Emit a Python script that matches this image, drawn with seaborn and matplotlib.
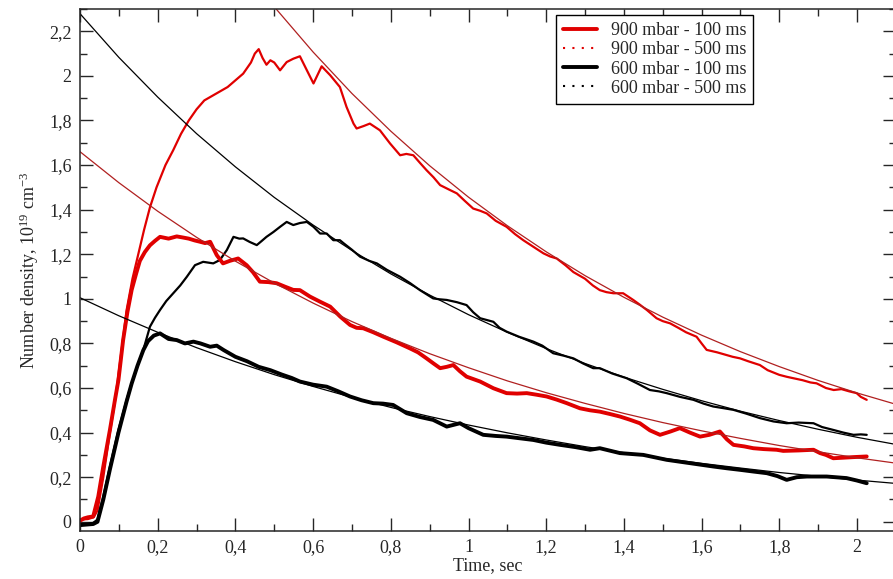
import matplotlib
matplotlib.use("Agg")
import matplotlib.pyplot as plt
import matplotlib.ticker as mticker
from matplotlib.lines import Line2D
import seaborn as sns

red100_t = [0, 0.01, 0.02, 0.034, 0.047, 0.06, 0.077, 0.09, 0.099, 0.111,
            0.122, 0.133, 0.144, 0.154, 0.167, 0.18, 0.193, 0.206, 0.228, 0.249,
            0.265, 0.28, 0.295, 0.309, 0.322, 0.335, 0.352, 0.368, 0.385, 0.407,
            0.429, 0.445, 0.463, 0.485, 0.506, 0.527, 0.549, 0.566, 0.592, 0.618,
            0.644, 0.67, 0.695, 0.712, 0.729, 0.755, 0.781, 0.815, 0.849, 0.87,
            0.892, 0.91, 0.927, 0.944, 0.961, 0.978, 0.995, 1.03, 1.064, 1.098,
            1.125, 1.15, 1.175, 1.201, 1.227, 1.253, 1.287, 1.313, 1.338, 1.365,
            1.39, 1.415, 1.441, 1.467, 1.493, 1.52, 1.544, 1.57, 1.596, 1.62,
            1.647, 1.665, 1.682, 1.71, 1.733, 1.76, 1.793, 1.81, 1.85, 1.888,
            1.905, 1.92, 1.939, 1.96, 1.99, 2.025]
red100_y = [0.005, 0.015, 0.02, 0.024, 0.113, 0.248, 0.412, 0.547, 0.636, 0.815,
            0.94, 1.04, 1.11, 1.17, 1.21, 1.24, 1.26, 1.278, 1.27, 1.28,
            1.275, 1.27, 1.262, 1.256, 1.25, 1.256, 1.196, 1.159, 1.17, 1.181,
            1.151, 1.12, 1.077, 1.075, 1.07, 1.055, 1.04, 1.039, 1.01, 0.987,
            0.965, 0.92, 0.883, 0.87, 0.868, 0.85, 0.83, 0.805, 0.778, 0.76,
            0.733, 0.71, 0.689, 0.695, 0.703, 0.675, 0.651, 0.629, 0.599, 0.577,
            0.575, 0.577, 0.57, 0.562, 0.548, 0.532, 0.509, 0.5, 0.494, 0.483,
            0.472, 0.458, 0.442, 0.41, 0.39, 0.405, 0.42, 0.4, 0.382, 0.39,
            0.405, 0.37, 0.345, 0.338, 0.33, 0.326, 0.323, 0.318, 0.32, 0.323,
            0.308, 0.3, 0.285, 0.287, 0.29, 0.293]

red500_t = [0, 0.02, 0.035, 0.045, 0.06, 0.077, 0.09, 0.107, 0.12, 0.135,
            0.15, 0.165, 0.18, 0.197, 0.22, 0.24, 0.26, 0.28, 0.30, 0.32,
            0.34, 0.36, 0.38, 0.40, 0.42, 0.44, 0.45, 0.46, 0.47, 0.48,
            0.49, 0.50, 0.515, 0.532, 0.549, 0.566, 0.584, 0.601, 0.622, 0.644,
            0.669, 0.686, 0.704, 0.712, 0.73, 0.746, 0.772, 0.798, 0.824, 0.84,
            0.858, 0.875, 0.892, 0.91, 0.927, 0.95, 0.97, 0.99, 1.012, 1.03,
            1.047, 1.07, 1.098, 1.12, 1.141, 1.17, 1.193, 1.21, 1.227, 1.25,
            1.27, 1.3, 1.32, 1.338, 1.355, 1.373, 1.398, 1.424, 1.44, 1.459,
            1.484, 1.50, 1.519, 1.54, 1.56, 1.587, 1.60, 1.613, 1.64, 1.66,
            1.68, 1.699, 1.72, 1.75, 1.77, 1.80, 1.82, 1.836, 1.86, 1.88,
            1.896, 1.92, 1.94, 1.96, 1.98, 1.999, 2.01, 2.025]
red500_y = [0.01, 0.012, 0.02, 0.05, 0.2, 0.4, 0.54, 0.77, 0.95, 1.09,
            1.2, 1.31, 1.41, 1.5, 1.6, 1.667, 1.74, 1.8, 1.85, 1.89,
            1.91, 1.93, 1.95, 1.98, 2.01, 2.06, 2.10, 2.12, 2.08, 2.05,
            2.07, 2.06, 2.025, 2.062, 2.077, 2.088, 2.025, 1.966, 2.043, 2.003,
            1.95, 1.861, 1.786, 1.764, 1.775, 1.786, 1.756, 1.697, 1.644, 1.65,
            1.644, 1.61, 1.577, 1.545, 1.51, 1.49, 1.473, 1.44, 1.405, 1.395,
            1.383, 1.35, 1.323, 1.29, 1.263, 1.23, 1.204, 1.19, 1.181, 1.15,
            1.12, 1.09, 1.06, 1.039, 1.03, 1.025, 1.025, 0.995, 0.975, 0.95,
            0.913, 0.90, 0.89, 0.87, 0.85, 0.83, 0.80, 0.771, 0.76, 0.75,
            0.74, 0.733, 0.72, 0.703, 0.68, 0.659, 0.65, 0.644, 0.635, 0.625,
            0.621, 0.60, 0.591, 0.595, 0.585, 0.577, 0.56, 0.547]

blk100_t = [0, 0.02, 0.034, 0.045, 0.06, 0.077, 0.099, 0.12, 0.133, 0.148,
            0.163, 0.175, 0.19, 0.206, 0.228, 0.249, 0.27, 0.292, 0.31, 0.335,
            0.352, 0.37, 0.40, 0.43, 0.46, 0.49, 0.52, 0.545, 0.566, 0.6,
            0.635, 0.665, 0.695, 0.725, 0.755, 0.78, 0.806, 0.841, 0.875, 0.909,
            0.944, 0.978, 1.0, 1.038, 1.07, 1.098, 1.13, 1.167, 1.2, 1.236,
            1.275, 1.313, 1.338, 1.39, 1.45, 1.51, 1.57, 1.63, 1.665, 1.699,
            1.735, 1.768, 1.795, 1.819, 1.845, 1.871, 1.922, 1.973, 2.0, 2.025]
blk100_y = [-0.015, -0.012, -0.01, 0.0, 0.1, 0.235, 0.40, 0.54, 0.62, 0.70,
            0.77, 0.81, 0.835, 0.845, 0.82, 0.815, 0.80, 0.808, 0.80, 0.785,
            0.79, 0.77, 0.74, 0.72, 0.695, 0.68, 0.66, 0.645, 0.629, 0.615,
            0.606, 0.585, 0.562, 0.545, 0.532, 0.53, 0.524, 0.487, 0.47, 0.457,
            0.427, 0.442, 0.42, 0.39, 0.385, 0.382, 0.375, 0.367, 0.355, 0.345,
            0.335, 0.323, 0.33, 0.308, 0.3, 0.278, 0.263, 0.248, 0.24, 0.233,
            0.225, 0.218, 0.205, 0.188, 0.2, 0.203, 0.203, 0.196, 0.185, 0.173]

blk500_t = [0, 0.02, 0.034, 0.045, 0.06, 0.077, 0.099, 0.12, 0.133, 0.148,
            0.163, 0.18, 0.193, 0.206, 0.222, 0.24, 0.258, 0.275, 0.296, 0.317,
            0.343, 0.36, 0.378, 0.395, 0.41, 0.42, 0.437, 0.455, 0.468, 0.48,
            0.498, 0.515, 0.532, 0.549, 0.566, 0.584, 0.601, 0.618, 0.635, 0.652,
            0.669, 0.678, 0.7, 0.721, 0.745, 0.764, 0.79, 0.824, 0.85, 0.875,
            0.909, 0.925, 0.944, 0.97, 0.995, 1.012, 1.03, 1.064, 1.08, 1.098,
            1.13, 1.167, 1.19, 1.218, 1.245, 1.27, 1.295, 1.321, 1.338, 1.37,
            1.407, 1.435, 1.467, 1.49, 1.51, 1.545, 1.579, 1.605, 1.63, 1.655,
            1.682, 1.715, 1.75, 1.785, 1.819, 1.85, 1.888, 1.91, 1.939, 1.965,
            1.991, 2.01, 2.025]
blk500_y = [-0.01, -0.01, -0.005, 0.01, 0.113, 0.248, 0.412, 0.547, 0.621, 0.70,
            0.771, 0.875, 0.915, 0.95, 0.99, 1.025, 1.06, 1.099, 1.151, 1.166,
            1.159, 1.174, 1.219, 1.278, 1.27, 1.271, 1.255, 1.241, 1.26, 1.278,
            1.30, 1.323, 1.345, 1.331, 1.34, 1.345, 1.323, 1.293, 1.293, 1.263,
            1.263, 1.25, 1.22, 1.189, 1.17, 1.159, 1.13, 1.099, 1.07, 1.039,
            1.002, 0.998, 0.995, 0.985, 0.972, 0.94, 0.913, 0.897, 0.87, 0.853,
            0.83, 0.808, 0.79, 0.756, 0.745, 0.733, 0.71, 0.689, 0.689, 0.665,
            0.644, 0.62, 0.591, 0.585, 0.577, 0.56, 0.547, 0.53, 0.517, 0.51,
            0.502, 0.485, 0.465, 0.45, 0.442, 0.445, 0.442, 0.425, 0.412, 0.40,
            0.39, 0.392, 0.39]

# exponential fit lines, read at 0.1 s steps
fit_t = [0, 0.1, 0.2, 0.3, 0.4, 0.5, 0.6, 0.7, 0.8, 0.9, 1.0,
         1.1, 1.2, 1.3, 1.4, 1.5, 1.6, 1.7, 1.8, 1.9, 2.0, 2.1]
fit_red_hi_t = [0.5, 0.6, 0.7, 0.8, 0.9, 1.0, 1.1, 1.2, 1.3,
                1.4, 1.5, 1.6, 1.7, 1.8, 1.9, 2.0, 2.1]
fit_red_hi = [2.31, 2.107, 1.921, 1.752, 1.597, 1.456, 1.328, 1.211, 1.104,
              1.007, 0.918, 0.837, 0.763, 0.696, 0.634, 0.578, 0.527]
fit_red_lo = [1.66, 1.521, 1.393, 1.276, 1.169, 1.071, 0.981, 0.898, 0.823, 0.754, 0.691,
              0.632, 0.579, 0.531, 0.486, 0.445, 0.408, 0.374, 0.342, 0.314, 0.287, 0.263]
fit_blk_hi = [2.279, 2.083, 1.905, 1.741, 1.592, 1.455, 1.331, 1.217, 1.112, 1.017, 0.929,
              0.850, 0.777, 0.710, 0.649, 0.594, 0.543, 0.496, 0.454, 0.415, 0.379, 0.347]
fit_blk_lo = [1.005, 0.924, 0.850, 0.781, 0.718, 0.660, 0.607, 0.558, 0.513, 0.472, 0.434,
              0.399, 0.367, 0.337, 0.310, 0.285, 0.262, 0.241, 0.221, 0.204, 0.187, 0.172]

legend_labels = ["900 mbar - 100 ms", "900 mbar - 500 ms",
                 "600 mbar - 100 ms", "600 mbar - 500 ms"]

RED = "#e00000"
RED_FIT = "#b02020"

sns.set_style("ticks")
plt.rcParams["font.family"] = ["Liberation Serif", "DejaVu Serif"]
plt.rcParams["mathtext.fontset"] = "custom"
plt.rcParams["mathtext.rm"] = "Liberation Serif"
plt.rcParams["mathtext.it"] = "Liberation Serif:italic"

fig = plt.figure(figsize=(8.93, 5.79), dpi=100)
ax = fig.add_axes([80 / 893, 48.3 / 579, 2.1 * 388.5 / 893, 521.7 / 579])

# measured data
sns.lineplot(x=red500_t, y=red500_y, ax=ax, color=RED, lw=1.6,
             estimator=None, sort=False, solid_joinstyle="round")
sns.lineplot(x=blk500_t, y=blk500_y, ax=ax, color="black", lw=1.6,
             estimator=None, sort=False, solid_joinstyle="round")
sns.lineplot(x=red100_t, y=red100_y, ax=ax, color=RED, lw=2.8,
             estimator=None, sort=False, solid_joinstyle="round")
sns.lineplot(x=blk100_t, y=blk100_y, ax=ax, color="black", lw=2.8,
             estimator=None, sort=False, solid_joinstyle="round")

# fits
sns.lineplot(x=fit_red_hi_t, y=fit_red_hi, ax=ax, color=RED_FIT, lw=0.9,
             estimator=None, sort=False)
sns.lineplot(x=fit_t, y=fit_red_lo, ax=ax, color=RED_FIT, lw=0.9,
             estimator=None, sort=False)
sns.lineplot(x=fit_t, y=fit_blk_hi, ax=ax, color="black", lw=0.9,
             estimator=None, sort=False)
sns.lineplot(x=fit_t, y=fit_blk_lo, ax=ax, color="black", lw=0.9,
             estimator=None, sort=False)

ax.set_xlim(0, 2.1)
ax.set_ylim(-0.04, 2.3)

ax.xaxis.set_major_locator(mticker.MultipleLocator(0.2))
ax.xaxis.set_minor_locator(mticker.MultipleLocator(0.1))
ax.yaxis.set_major_locator(mticker.MultipleLocator(0.2))
ax.yaxis.set_minor_locator(mticker.MultipleLocator(0.1))
comma = mticker.FuncFormatter(lambda v, p: f"{round(v, 2):g}".replace(".", ","))
ax.xaxis.set_major_formatter(comma)
ax.yaxis.set_major_formatter(comma)

ax.tick_params(which="both", direction="in", top=True, right=True, width=1,
               labelsize=13, pad=6)
ax.tick_params(which="major", length=9.5)
ax.tick_params(which="minor", length=5)
for s in ax.spines.values():
    s.set_linewidth(1.1)

ax.set_xlabel("Time, sec", fontsize=13, labelpad=1)
ax.set_ylabel(r"Number density, 10$^{19}$ cm$^{-3}$", fontsize=13, labelpad=6)

handles = [
    Line2D([], [], color=RED, lw=2.8),
    Line2D([], [], color=RED, lw=1.5, ls=(0, (1, 3.5))),
    Line2D([], [], color="black", lw=2.8),
    Line2D([], [], color="black", lw=1.5, ls=(0, (1, 3.5))),
]
leg = ax.legend(handles, legend_labels, loc="upper left",
                bbox_to_anchor=(0.583, 0.9885), fontsize=13, frameon=True,
                fancybox=False, edgecolor="black", framealpha=1,
                handlelength=1.9, handletextpad=0.75, labelspacing=0.12,
                borderpad=0.4, borderaxespad=0)
leg.get_frame().set_linewidth(1.0)

fig.savefig("out.png", dpi=100)
